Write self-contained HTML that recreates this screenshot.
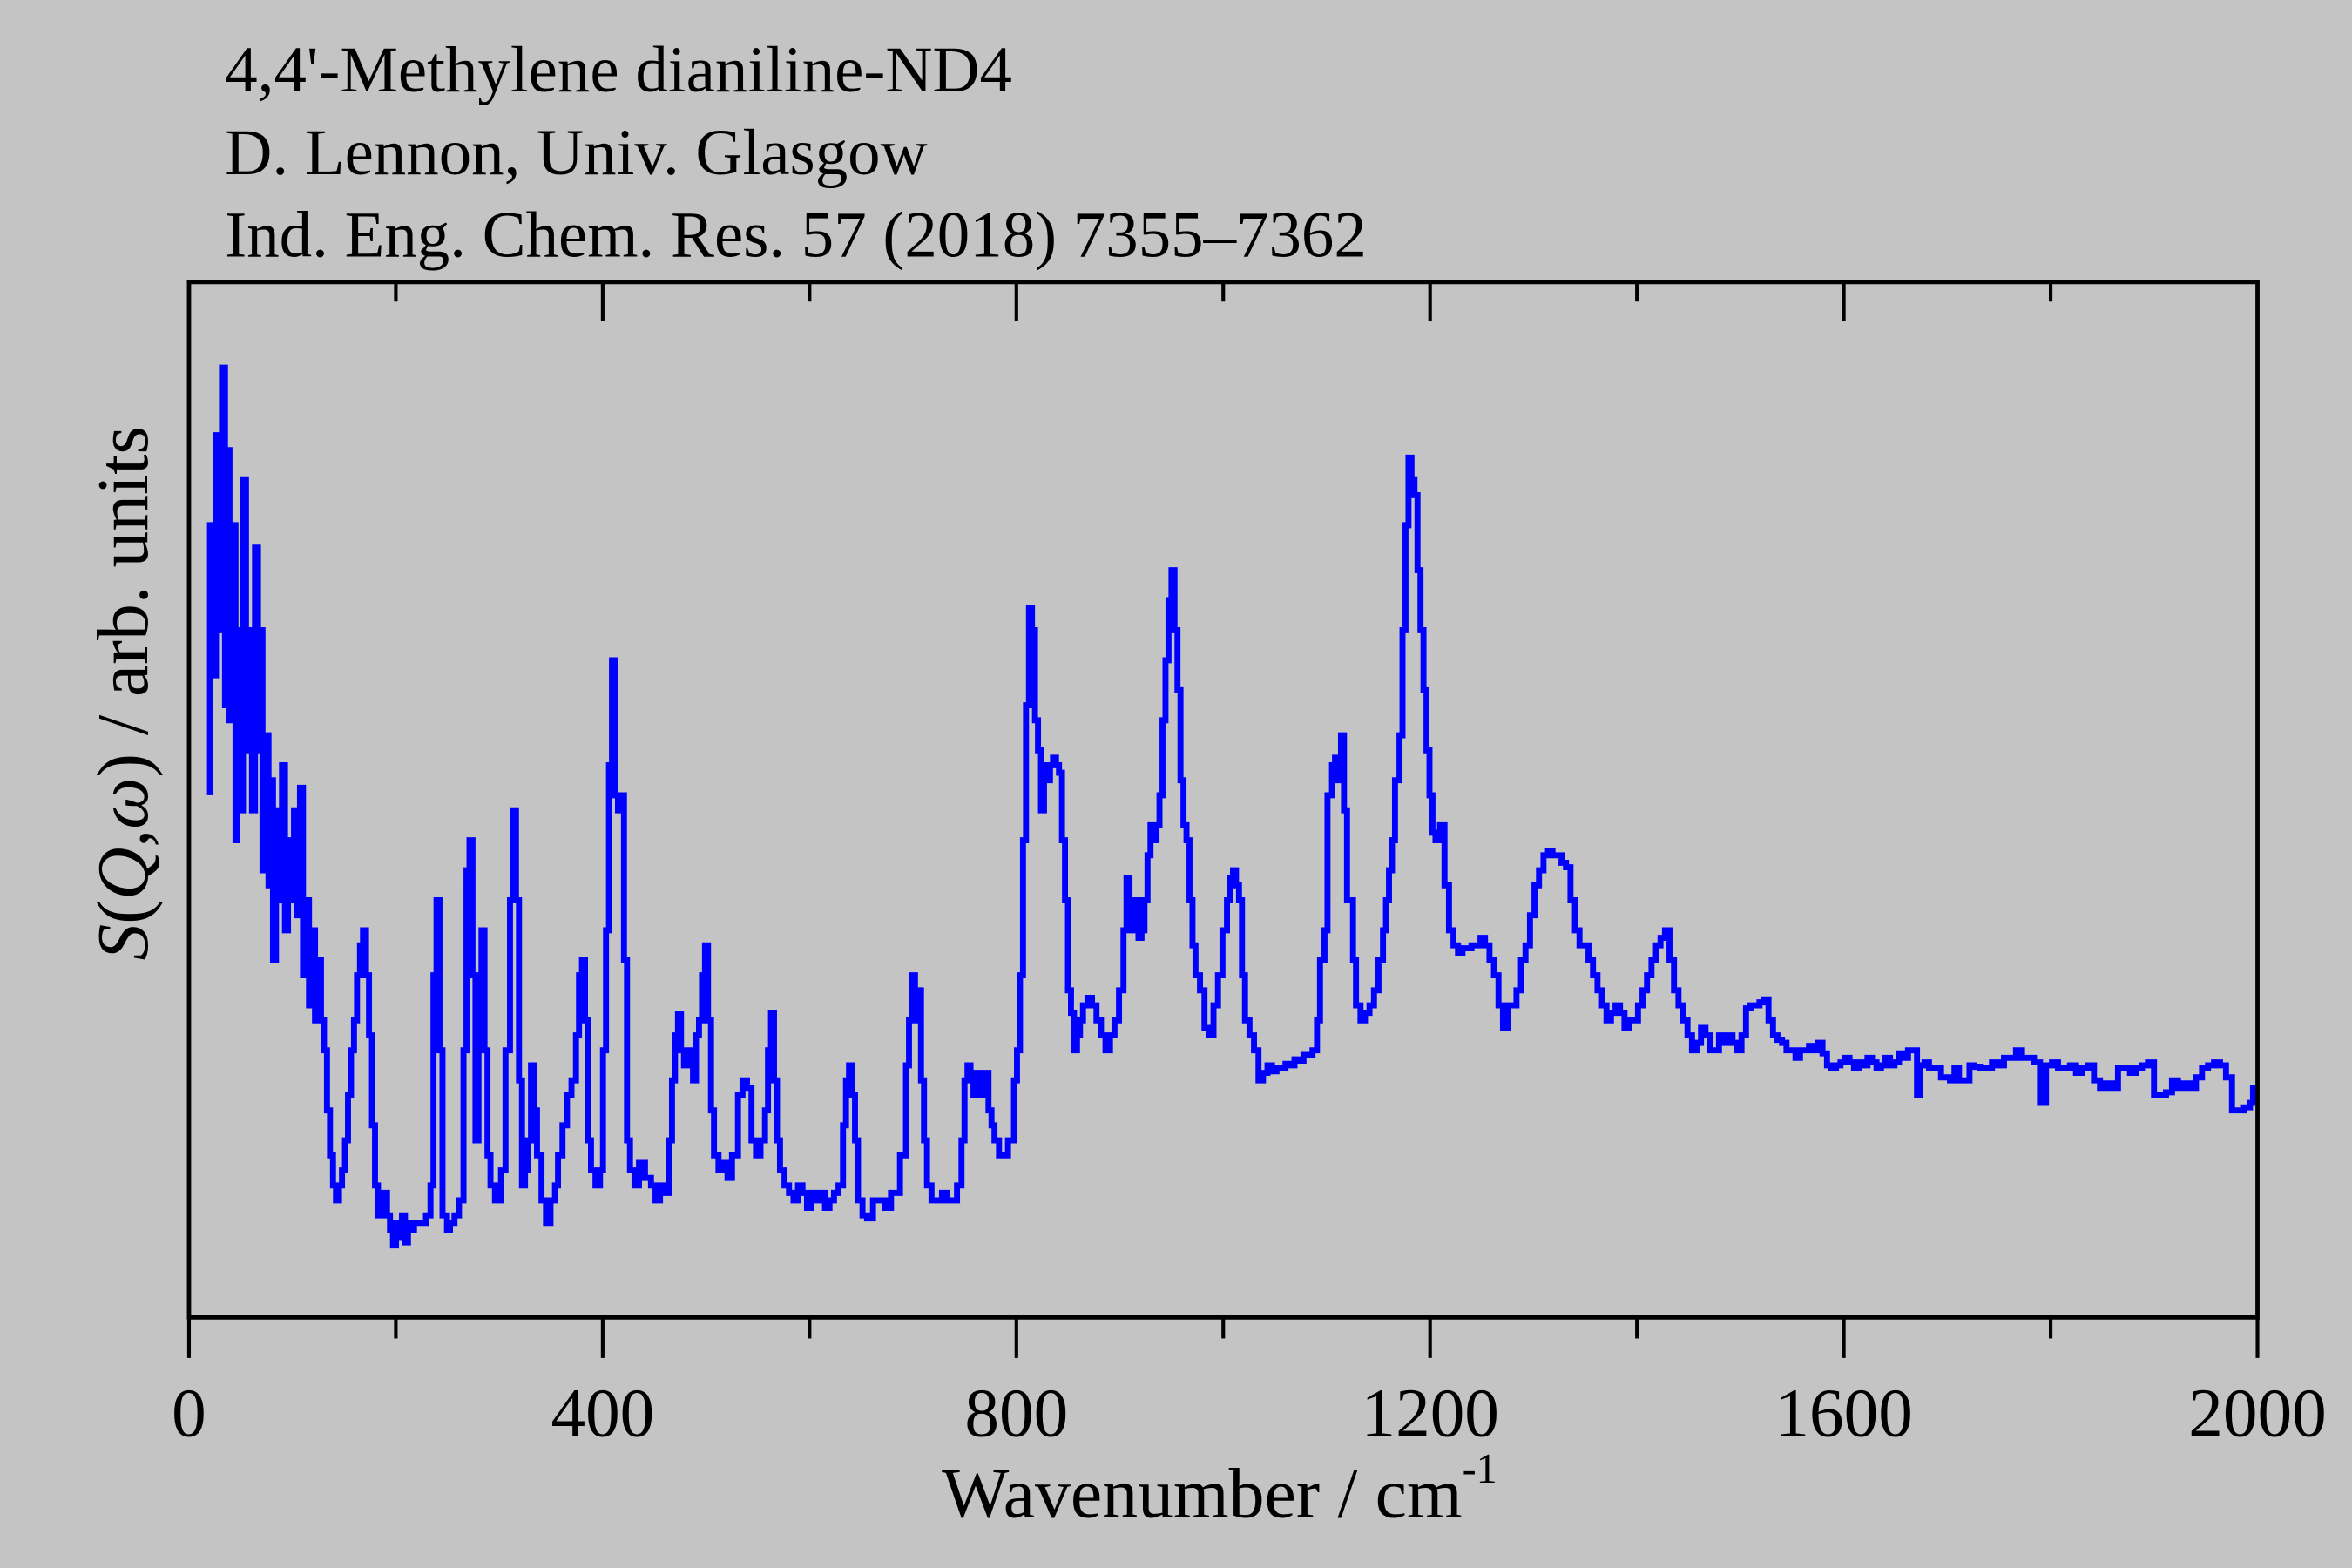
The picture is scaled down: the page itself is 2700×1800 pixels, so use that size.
<!DOCTYPE html>
<html><head><meta charset="utf-8"><style>
html,body{margin:0;padding:0;background:#c4c4c4;}
svg{display:block;}
text{font-family:"Liberation Serif",serif;fill:#000;}
</style></head><body>
<svg id="s" width="2700" height="1800" viewBox="0 0 1568 1045" preserveAspectRatio="none" xmlns="http://www.w3.org/2000/svg">
<rect x="0" y="0" width="1568" height="1045" fill="#c4c4c4"/>
<text x="150" y="61" font-size="43.5">4,4'-Methylene dianiline-ND4</text>
<text x="150" y="116" font-size="43.5">D. Lennon, Univ. Glasgow</text>
<text x="150" y="171" font-size="43.5">Ind. Eng. Chem. Res. 57 (2018) 7355–7362</text>
<path id="spec" d="" fill="none" stroke="#0000ff" stroke-width="4" stroke-linejoin="miter"/>
<rect x="126" y="188" width="1379" height="690" fill="none" stroke="#000" stroke-width="2.8"/>
<g stroke="#000" stroke-width="2.4">
<line x1="126" y1="878" x2="126" y2="905"/><line x1="401.8" y1="878" x2="401.8" y2="905"/><line x1="677.6" y1="878" x2="677.6" y2="905"/><line x1="953.4" y1="878" x2="953.4" y2="905"/><line x1="1229.2" y1="878" x2="1229.2" y2="905"/><line x1="1505" y1="878" x2="1505" y2="905"/>
<line x1="263.9" y1="878" x2="263.9" y2="892"/><line x1="539.7" y1="878" x2="539.7" y2="892"/><line x1="815.5" y1="878" x2="815.5" y2="892"/><line x1="1091.3" y1="878" x2="1091.3" y2="892"/><line x1="1367.1" y1="878" x2="1367.1" y2="892"/>
<line x1="401.8" y1="188" x2="401.8" y2="214"/><line x1="677.6" y1="188" x2="677.6" y2="214"/><line x1="953.4" y1="188" x2="953.4" y2="214"/><line x1="1229.2" y1="188" x2="1229.2" y2="214"/>
<line x1="263.9" y1="188" x2="263.9" y2="201"/><line x1="539.7" y1="188" x2="539.7" y2="201"/><line x1="815.5" y1="188" x2="815.5" y2="201"/><line x1="1091.3" y1="188" x2="1091.3" y2="201"/><line x1="1367.1" y1="188" x2="1367.1" y2="201"/>
</g>
<g font-size="46" text-anchor="middle">
<text x="126" y="957">0</text><text x="401.8" y="957">400</text><text x="677.6" y="957">800</text><text x="953.4" y="957">1200</text><text x="1229.2" y="957">1600</text><text x="1505" y="957">2000</text>
</g>
<text x="813" y="1011" font-size="47.5" text-anchor="middle">Wavenumber / cm<tspan font-size="28" dy="-23">-1</tspan></text>
<text transform="translate(98,462) rotate(-90)" font-size="48.5" text-anchor="middle"><tspan font-style="italic">S</tspan>(<tspan font-style="italic">Q</tspan>,<tspan font-style="italic">ω</tspan>) / arb. units</text>
</svg>
<script>
var p="140,530 140,350 143,450 144,290 146,420 148,245 150,470 151,300 153,480 155,350 157,560 158,420 160,540 162,320 164,500 166,420 168,540 170,365 172,500 173,420 175,580 177,490 179,590 180,520 182,640 184,540 186,600 188,510 190,620 192,560 194,600 196,540 198,610 200,525 202,650 204,600 206,670 208,620 210,680 212,640 214,680 216,700 218,740 220,770 222,790 224,800 226,790 228,780 230,760 232,730 234,700 236,680 238,650 240,630 242,620 244,650 246,690 248,750 250,790 252,810 254,800 256,795 258,810 260,820 262,830 264,815 266,825 268,810 270,828 272,815 274,820 276,815 280,815 284,810 287,790 289,650 291,600 293,700 295,810 298,820 300,815 303,810 306,800 309,700 311,580 313,560 315,650 317,760 319,700 321,620 323,700 325,770 327,790 330,800 334,780 337,700 340,600 342,540 344,600 346,720 348,790 350,780 352,760 354,710 356,740 358,770 361,800 364,815 367,800 370,790 372,770 375,750 378,730 381,720 384,690 386,650 388,640 390,680 392,760 394,780 397,790 400,780 402,700 404,620 406,510 408,440 410,530 412,540 414,530 416,640 418,760 420,780 423,790 426,775 430,785 434,790 437,800 440,790 443,795 446,760 448,720 450,690 452,676 454,700 456,710 458,700 460,710 462,720 464,690 466,680 468,650 470,630 472,680 474,740 476,770 479,780 482,775 485,785 488,770 492,730 495,720 498,725 501,760 504,770 507,760 510,740 512,700 514,675 516,720 518,760 520,780 523,790 526,795 529,800 532,790 535,795 538,805 541,795 544,800 547,795 550,805 553,800 556,795 559,790 562,750 564,720 566,710 568,730 570,760 572,800 575,810 578,812 582,800 586,800 590,805 594,795 597,795 600,770 604,710 606,680 608,650 610,680 612,660 614,720 616,760 618,790 621,800 625,800 628,795 631,800 635,800 638,790 641,760 643,720 645,710 647,720 649,730 651,715 653,730 655,720 657,715 659,740 661,750 663,760 666,770 670,770 672,760 676,720 678,700 680,650 682,560 684,470 686,405 688,420 690,480 692,500 694,540 696,510 698,520 700,510 702,505 704,510 706,515 708,560 710,600 712,660 714,675 716,700 718,690 720,680 722,670 725,665 728,670 731,680 734,690 737,700 740,690 743,680 746,660 749,620 751,585 753,610 755,620 757,600 759,625 761,620 763,600 765,570 767,550 769,560 771,550 773,530 775,480 777,440 779,400 781,380 783,420 785,460 787,520 789,550 791,560 793,600 795,630 797,650 800,660 803,685 806,690 809,670 812,650 815,620 818,600 820,585 822,580 824,590 826,600 828,650 830,680 833,690 836,700 839,720 842,715 845,710 848,714 851,712 854,712 857,709 860,710 863,706 866,707 869,703 872,703 875,700 878,680 880,640 883,620 885,530 888,510 890,505 892,520 894,490 896,540 898,600 900,600 902,640 904,670 907,680 910,675 913,670 916,660 919,640 922,620 924,600 926,580 928,560 930,520 933,490 935,420 937,350 939,305 941,320 943,330 945,380 947,420 949,460 951,500 953,530 955,555 957,560 960,550 963,590 966,620 969,630 972,635 975,632 978,632 981,630 984,630 987,625 990,630 993,640 996,650 999,670 1002,685 1005,670 1008,670 1011,660 1014,640 1017,630 1020,610 1023,590 1026,580 1029,570 1032,567 1035,570 1038,570 1041,575 1044,578 1047,600 1050,620 1053,630 1056,630 1059,640 1062,650 1065,660 1068,670 1071,680 1074,675 1077,670 1080,675 1083,685 1086,680 1089,680 1092,670 1095,660 1098,650 1101,640 1104,630 1107,625 1110,620 1113,640 1116,660 1119,670 1122,680 1125,690 1128,700 1131,695 1134,685 1137,690 1140,700 1143,700 1146,690 1149,695 1152,690 1155,695 1158,700 1161,690 1164,672 1167,670 1170,670 1173,668 1176,666 1179,680 1182,690 1185,693 1188,695 1191,700 1194,700 1197,705 1200,700 1203,700 1206,697 1209,700 1212,695 1215,702 1218,710 1221,712 1224,710 1227,708 1230,705 1233,708 1236,712 1239,708 1242,710 1245,705 1248,708 1251,712 1254,710 1257,705 1260,710 1263,708 1266,702 1269,705 1272,700 1275,700 1278,730 1280,710 1283,708 1286,712 1290,712 1294,718 1297,718 1300,720 1303,712 1306,720 1310,720 1313,710 1316,711 1320,712 1324,712 1328,708 1332,710 1336,705 1340,705 1344,700 1348,705 1352,705 1356,708 1360,735 1364,710 1368,708 1372,712 1376,712 1380,710 1384,715 1388,712 1392,710 1396,720 1400,725 1404,722 1408,725 1412,712 1416,712 1420,715 1424,712 1428,710 1432,708 1436,730 1440,730 1444,728 1448,720 1452,725 1456,722 1460,725 1464,718 1468,712 1472,710 1476,708 1480,710 1484,718 1488,740 1492,740 1496,738 1500,735 1502,725 1504,735".split(" ");
var d="";for(var i=0;i<p.length;i++){var a=p[i].split(",");if(i==0)d="M"+a[0]+" "+a[1];else d+=" H"+a[0]+" V"+a[1];}
document.getElementById("spec").setAttribute("d",d);
</script>
</body></html>
